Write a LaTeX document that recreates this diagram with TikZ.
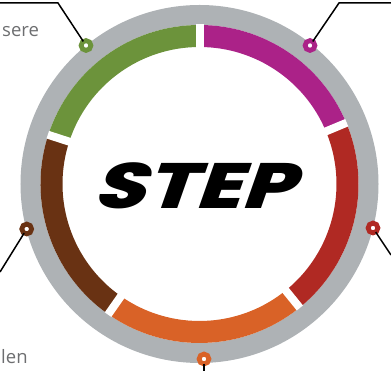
\documentclass[tikz,border=0pt]{standalone}
\usepackage{fontspec}
\setmainfont{Open Sans}
\newfontfamily\logofont{Poppins}[UprightFont=* ExtraBold]
\definecolor{ringgray}{HTML}{AEB2B5}
\definecolor{stepgreen}{HTML}{6C933B}
\definecolor{stepmagenta}{HTML}{AB2288}
\definecolor{stepred}{HTML}{B02923}
\definecolor{steporange}{HTML}{D96227}
\definecolor{stepbrown}{HTML}{693213}
\definecolor{labelgray}{HTML}{6D6E70}
\tikzset{
	segment/.style={line width=22pt},
	gap/.style={white,line width=8pt},
	leader/.style={black,line width=1.5pt},
	dotmark/.style={circle,fill=white,line width=4.8pt,minimum size=9.8pt,inner sep=0pt,outer sep=0pt},
	cutlabel/.style={text=labelgray,font=\fontsize{18.5pt}{20pt}\selectfont,inner sep=0pt,anchor=base west}
}
\begin{document}
\begin{tikzpicture}[x=1pt,y=1pt]
		\useasboundingbox (0,0) rectangle (391,371);
		\begin{scope}[shift={(199.5,187)}]
		\draw[ringgray,line width=20pt] (0,0) circle (169);
		\draw[segment,stepmagenta] (90:148) arc (90:22.6:148);
		\draw[segment,stepred] (22.6:148) arc (22.6:-51:148);
		\draw[segment,steporange] (-51:148) arc (-51:-125:148);
		\draw[segment,stepbrown] (-125:148) arc (-125:-198:148);
		\draw[segment,stepgreen] (-198:148) arc (-198:-270:148);
		\draw[gap] (90:132)--(90:159.5);
		\draw[gap] (22.6:132)--(22.6:159.5);
		\draw[gap] (-51:132)--(-51:159.5);
		\draw[gap] (-125:132)--(-125:159.5);
		\draw[gap] (-198:132)--(-198:159.5);
		\end{scope}
		\node [inner sep=0pt,xslant=0.35,xscale=1.3,transform shape] (logo) at (201,185) {\logofont\fontsize{64pt}{64pt}\selectfont STEP};
		\node [cutlabel] (sere) at (2,334.3) {sere};
		\node [cutlabel] (len) at (1,7) {len};
		% end points of the leaders
		\coordinate (greenbend) at (58,368);
		\coordinate (greenend) at (0,368);
		\coordinate (magentabend) at (339,368);
		\coordinate (magentaend) at (391,368);
		\coordinate (redend) at (391,116);
		\coordinate (brownend) at (0,99);
		\coordinate (orangeend) at (204,0);
		\node [dotmark,draw=stepgreen] (greendot) at (86,325.5) {};
		\node [dotmark,draw=stepmagenta] (magentadot) at (310,325.5) {};
		\node [dotmark,draw=stepred] (reddot) at (373,143) {};
		\node [dotmark,draw=stepbrown] (browndot) at (26.7,142) {};
		\node [dotmark,draw=steporange] (orangedot) at (204,12) {};
		\draw[leader] (greendot)--(greenbend)--(greenend);
		\draw[leader] (magentadot)--(magentabend)--(magentaend);
		\draw[leader] (reddot)--(redend);
		\draw[leader] (browndot)--(brownend);
		\draw[leader] (orangedot)--(orangeend);
		\end{tikzpicture}
\end{document}
